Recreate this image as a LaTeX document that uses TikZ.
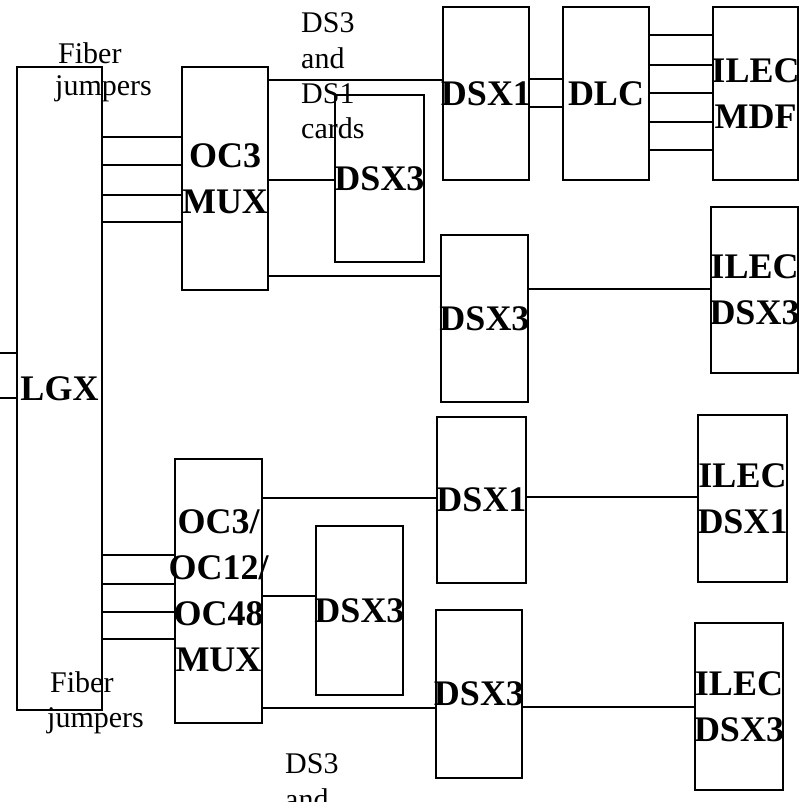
\documentclass[tikz,border=0pt]{standalone}
\usepackage{fontspec}
\setmainfont{Liberation Serif}
\begin{document}
\begin{tikzpicture}[x=1pt,y=-1pt,
  box/.style={draw, line width=2.2pt, inner sep=0pt, rectangle},
  lbl/.style={font=\bfseries\fontsize{36}{46}\selectfont, align=center, inner sep=0pt},
  txt/.style={font=\fontsize{30}{32}\selectfont, inner sep=0pt, anchor=base west},
  wire/.style={line width=2pt}]
\useasboundingbox (0,0) rectangle (802,801);
\clip (0,0) rectangle (802,801);
% boxes: centre (x,y), width, height
\newcommand{\mybox}[6]{\node[box, minimum width=#4pt, minimum height=#5pt] (#1) at (#2,#3) {};
  \node[lbl] (#1t) at (#1.center) {#6};}
\mybox{lgx}{59.5}{388.5}{85}{643}{LGX}
\mybox{oc3}{225}{178.5}{86}{223}{OC3\\MUX}
\mybox{dsx3a}{379.5}{178.5}{89}{167}{DSX3}
\mybox{dsx1a}{486}{93.5}{86}{173}{DSX1}
\mybox{dlc}{606}{93.5}{86}{173}{DLC}
\mybox{mdf}{755.5}{93.5}{85}{173}{ILEC\\MDF}
\mybox{dsx3b}{484.5}{318.5}{87}{167}{DSX3}
\mybox{ilec3a}{754.5}{290}{87}{166}{ILEC\\DSX3}
\mybox{ocmux}{218.5}{591}{87}{264}{OC3/\\OC12/\\OC48\\MUX}
\mybox{dsx3c}{359.5}{610.5}{87}{169}{DSX3}
\mybox{dsx1b}{481.5}{500}{89}{166}{DSX1}
\mybox{ilec1}{742.5}{498.5}{89}{167}{ILEC\\DSX1}
\mybox{dsx3d}{479}{694}{86}{168}{DSX3}
\mybox{ilec3b}{739}{706.5}{88}{167}{ILEC\\DSX3}
% free ends at the left border
\coordinate (stubA) at (0,353);
\coordinate (stubB) at (0,398);
\draw[wire] (stubA) -- (lgx.west |- stubA);
\draw[wire] (stubB) -- (lgx.west |- stubB);
% fiber jumpers, top
\foreach \yy in {137,165,195,222} \draw[wire] (lgx.east |- 0,\yy) -- (oc3.west |- 0,\yy);
% fiber jumpers, bottom
\foreach \yy in {555,584,612,639} \draw[wire] (lgx.east |- 0,\yy) -- (ocmux.west |- 0,\yy);
% top MUX outputs
\draw[wire] (oc3.east |- 0,80) -- (dsx1a.west |- 0,80);
\draw[wire] (oc3.east |- 0,180) -- (dsx3a.west |- 0,180);
\draw[wire] (oc3.east |- 0,276) -- (dsx3b.west |- 0,276);
\draw[wire] (dsx1a.east |- 0,79) -- (dlc.west |- 0,79);
\draw[wire] (dsx1a.east |- 0,107) -- (dlc.west |- 0,107);
\foreach \yy in {35,65,93,122,150} \draw[wire] (dlc.east |- 0,\yy) -- (mdf.west |- 0,\yy);
\draw[wire] (dsx3b.east |- 0,289) -- (ilec3a.west |- 0,289);
% bottom MUX outputs
\draw[wire] (ocmux.east |- 0,498) -- (dsx1b.west |- 0,498);
\draw[wire] (dsx1b.east |- 0,497) -- (ilec1.west |- 0,497);
\draw[wire] (ocmux.east |- 0,596) -- (dsx3c.west |- 0,596);
\draw[wire] (ocmux.east |- 0,708) -- (dsx3d.west |- 0,708);
\draw[wire] (dsx3d.east |- 0,707) -- (ilec3b.west |- 0,707);
% plain labels
\node[txt] (fibA) at (58,63) {Fiber};
\node[txt] (jumA) at (55,95) {jumpers};
\node[txt] (dsA1) at (301,32) {DS3};
\node[txt] (dsA2) at (301,68) {and};
\node[txt] (dsA3) at (301,103) {DS1};
\node[txt] (dsA4) at (301,138) {cards};
\node[txt] (fibB) at (50,692) {Fiber};
\node[txt] (jumB) at (47,727) {jumpers};
\node[txt] (dsB1) at (285,773) {DS3};
\node[txt] (dsB2) at (285,809) {and};
\end{tikzpicture}
\end{document}
